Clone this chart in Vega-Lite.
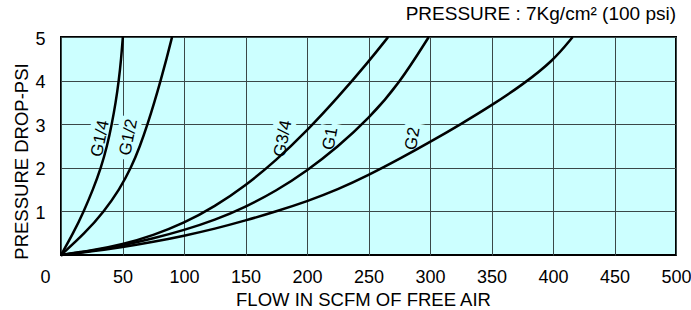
{
  "$schema": "https://vega.github.io/schema/vega-lite/v6.json",
  "width": 615,
  "height": 218,
  "autosize": {"type": "none"},
  "padding": {"left": 61, "top": 37, "right": 15, "bottom": 55},
  "background": "white",
  "title": {
    "text": "PRESSURE : 7Kg/cm² (100 psi)",
    "anchor": "end",
    "frame": "group",
    "font": "Liberation Sans",
    "fontSize": 19,
    "fontWeight": "normal",
    "color": "black",
    "offset": 6
  },
  "config": {
    "view": {"stroke": "black", "strokeWidth": 2, "fill": "#ccffff"},
    "axis": {
      "labelFont": "Liberation Sans",
      "labelFontSize": 18,
      "labelColor": "black",
      "labelFlush": false,
      "titleFont": "Liberation Sans",
      "titleFontSize": 18.5,
      "titleFontWeight": "normal",
      "titleColor": "black",
      "grid": true,
      "gridColor": "#3a4848",
      "gridWidth": 1,
      "gridOpacity": 1,
      "domain": false,
      "ticks": false
    }
  },
  "datasets": {
    "curves": [
      {"series": "G1/4", "flow": 0, "psi": 0},
      {"series": "G1/4", "flow": 10, "psi": 0.5},
      {"series": "G1/4", "flow": 18.5, "psi": 1},
      {"series": "G1/4", "flow": 26, "psi": 1.5},
      {"series": "G1/4", "flow": 32.5, "psi": 2},
      {"series": "G1/4", "flow": 37.5, "psi": 2.5},
      {"series": "G1/4", "flow": 41.3, "psi": 3},
      {"series": "G1/4", "flow": 44.5, "psi": 3.5},
      {"series": "G1/4", "flow": 47, "psi": 4},
      {"series": "G1/4", "flow": 48.9, "psi": 4.5},
      {"series": "G1/4", "flow": 50.3, "psi": 5},
      {"series": "G1/2", "flow": 0, "psi": 0},
      {"series": "G1/2", "flow": 19.5, "psi": 0.5},
      {"series": "G1/2", "flow": 35, "psi": 1},
      {"series": "G1/2", "flow": 47.5, "psi": 1.5},
      {"series": "G1/2", "flow": 57, "psi": 2},
      {"series": "G1/2", "flow": 64.3, "psi": 2.5},
      {"series": "G1/2", "flow": 70.4, "psi": 3},
      {"series": "G1/2", "flow": 75.9, "psi": 3.5},
      {"series": "G1/2", "flow": 81, "psi": 4},
      {"series": "G1/2", "flow": 85.8, "psi": 4.5},
      {"series": "G1/2", "flow": 90.3, "psi": 5},
      {"series": "G3/4", "flow": 0, "psi": 0},
      {"series": "G3/4", "flow": 25, "psi": 0.1},
      {"series": "G3/4", "flow": 50, "psi": 0.24},
      {"series": "G3/4", "flow": 75, "psi": 0.45},
      {"series": "G3/4", "flow": 100, "psi": 0.73},
      {"series": "G3/4", "flow": 125, "psi": 1.11},
      {"series": "G3/4", "flow": 150, "psi": 1.59},
      {"series": "G3/4", "flow": 175, "psi": 2.17},
      {"series": "G3/4", "flow": 200, "psi": 2.85},
      {"series": "G3/4", "flow": 225, "psi": 3.61},
      {"series": "G3/4", "flow": 250, "psi": 4.43},
      {"series": "G3/4", "flow": 266, "psi": 5},
      {"series": "G1", "flow": 0, "psi": 0},
      {"series": "G1", "flow": 25, "psi": 0.09},
      {"series": "G1", "flow": 50, "psi": 0.22},
      {"series": "G1", "flow": 75, "psi": 0.38},
      {"series": "G1", "flow": 100, "psi": 0.57},
      {"series": "G1", "flow": 125, "psi": 0.8},
      {"series": "G1", "flow": 150, "psi": 1.1},
      {"series": "G1", "flow": 175, "psi": 1.47},
      {"series": "G1", "flow": 200, "psi": 1.93},
      {"series": "G1", "flow": 225, "psi": 2.48},
      {"series": "G1", "flow": 250, "psi": 3.12},
      {"series": "G1", "flow": 275, "psi": 3.93},
      {"series": "G1", "flow": 299, "psi": 5},
      {"series": "G2", "flow": 0, "psi": 0},
      {"series": "G2", "flow": 25, "psi": 0.08},
      {"series": "G2", "flow": 50, "psi": 0.18},
      {"series": "G2", "flow": 75, "psi": 0.3},
      {"series": "G2", "flow": 100, "psi": 0.44},
      {"series": "G2", "flow": 125, "psi": 0.6},
      {"series": "G2", "flow": 150, "psi": 0.79},
      {"series": "G2", "flow": 175, "psi": 1.0},
      {"series": "G2", "flow": 200, "psi": 1.23},
      {"series": "G2", "flow": 225, "psi": 1.5},
      {"series": "G2", "flow": 250, "psi": 1.83},
      {"series": "G2", "flow": 275, "psi": 2.2},
      {"series": "G2", "flow": 300, "psi": 2.59},
      {"series": "G2", "flow": 325, "psi": 3.0},
      {"series": "G2", "flow": 350, "psi": 3.43},
      {"series": "G2", "flow": 375, "psi": 3.9},
      {"series": "G2", "flow": 400, "psi": 4.45},
      {"series": "G2", "flow": 416, "psi": 5}
    ],
    "labels": [
      {"label": "G1/4", "flow": 32, "psi": 2.67},
      {"label": "G1/2", "flow": 55, "psi": 2.7},
      {"label": "G3/4", "flow": 180.5, "psi": 2.67},
      {"label": "G1", "flow": 219, "psi": 2.67},
      {"label": "G2", "flow": 286, "psi": 2.67}
    ]
  },
  "encoding": {
    "x": {
      "field": "flow",
      "type": "quantitative",
      "scale": {"domain": [0, 500], "nice": false, "zero": true},
      "axis": {
        "title": "FLOW IN SCFM OF FREE AIR",
        "values": [0, 50, 100, 150, 200, 250, 300, 350, 400, 450, 500],
        "labelPadding": 13,
        "labelOffset": {"condition": {"test": "datum.value === 0", "value": -16}, "value": 0},
        "titlePadding": 4,
        "titleX": 302
      }
    },
    "y": {
      "field": "psi",
      "type": "quantitative",
      "scale": {"domain": [0, 5], "nice": false},
      "axis": {
        "title": "PRESSURE DROP-PSI",
        "values": [1, 2, 3, 4, 5],
        "labelPadding": 16,
        "labelOffset": 2,
        "titleX": -40,
        "titleY": 124,
        "titleBaseline": "middle",
        "titleAngle": 270
      }
    }
  },
  "layer": [
    {
      "data": {"name": "labels"},
      "mark": {"type": "text", "font": "Liberation Sans", "fontSize": 17, "align": "center", "baseline": "middle", "fill": "#ccffff", "stroke": "#ccffff", "strokeWidth": 10},
      "encoding": {
        "text": {"field": "label"},
        "angle": {"field": "label", "type": "nominal", "scale": {"domain": ["G1/4", "G1/2", "G3/4", "G1", "G2"], "range": [282, 280, 315, 322, 332]}, "legend": null}
      }
    },
    {
      "data": {"name": "curves"},
      "mark": {"type": "line", "color": "black", "strokeWidth": 2.5, "interpolate": "basis"},
      "encoding": {
        "detail": {"field": "series"}
      }
    },
    {
      "data": {"name": "labels"},
      "mark": {"type": "text", "font": "Liberation Sans", "fontSize": 17, "align": "center", "baseline": "middle", "color": "black"},
      "encoding": {
        "text": {"field": "label"},
        "angle": {"field": "label", "type": "nominal", "scale": {"domain": ["G1/4", "G1/2", "G3/4", "G1", "G2"], "range": [282, 280, 315, 322, 332]}, "legend": null}
      }
    }
  ]
}
